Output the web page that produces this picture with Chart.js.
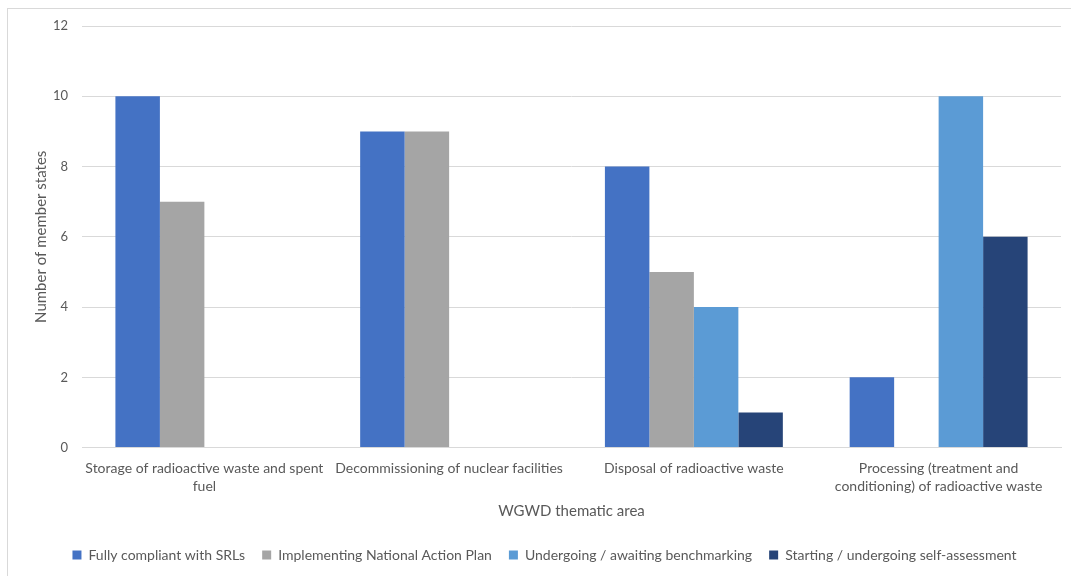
<!DOCTYPE html>
<html>
<head>
<meta charset="utf-8">
<script src="https://cdn.jsdelivr.net/npm/chart.js@4"></script>
<style>
  body { margin: 0; background: #fff; }
  #wrap { position: relative; width: 1071px; height: 576px; }
  #frame { position: absolute; left: 7px; top: 8px; width: 1070px; height: 575px; border: 1px solid #d9d9d9; box-sizing: border-box; }
  canvas { position: absolute; left: 0; top: 0; }
</style>
</head>
<body>
<div id="wrap">
  <div id="frame"></div>
  <canvas id="chart" width="1071" height="576"></canvas>
</div>
<script>
const categories = [
  ["Storage of radioactive waste and spent", "fuel"],
  "Decommissioning of nuclear facilities",
  "Disposal of radioactive waste",
  ["Processing (treatment and", "conditioning) of radioactive waste"]
];
const seriesNames = [
  "Fully compliant with SRLs",
  "Implementing National Action Plan",
  "Undergoing / awaiting benchmarking",
  "Starting / undergoing self-assessment"
];
const fullyCompliant = [10, 9, 8, 2];
const implementingNAP = [7, 9, 5, 0];
const benchmarking = [0, 0, 4, 10];
const selfAssessment = [0, 0, 1, 6];
const colors = ["#4472C4", "#A5A5A5", "#5B9BD5", "#264478"];

const textColor = "#595959";
const fontFamily = "Lato, 'Liberation Sans', sans-serif";

const values = [fullyCompliant, implementingNAP, benchmarking, selfAssessment];
const datasets = values.map((v, i) => ({
  label: seriesNames[i],
  data: v,
  backgroundColor: colors[i],
  borderWidth: 0,
  categoryPercentage: 0.727,
  barPercentage: 1.0
}));

new Chart(document.getElementById("chart").getContext("2d"), {
  type: "bar",
  data: { labels: categories, datasets: datasets },
  options: {
    responsive: false,
    animation: false,
    layout: { padding: { top: 26, right: 10, left: 28, bottom: 4 } },
    plugins: {
      tooltip: { enabled: false },
      legend: {
        position: "bottom",
        labels: {
          color: textColor,
          font: { family: fontFamily, size: 14 },
          boxWidth: 9,
          boxHeight: 9,
          padding: 17
        }
      }
    },
    scales: {
      x: {
        grid: { display: false },
        border: { display: true, color: "#d9d9d9" },
        ticks: { color: textColor, font: { family: fontFamily, size: 14, lineHeight: 1.3 }, maxRotation: 0, padding: 4 },
        title: {
          display: true,
          text: "WGWD thematic area",
          color: textColor,
          font: { family: fontFamily, size: 15 },
          padding: { top: 2, bottom: 11 }
        }
      },
      y: {
        min: 0,
        max: 12,
        ticks: { stepSize: 2, color: textColor, font: { family: fontFamily, size: 13 }, padding: 14 },
        grid: { color: "#d9d9d9", drawTicks: false },
        border: { display: false },
        title: {
          display: true,
          text: "Number of member states",
          color: textColor,
          font: { family: fontFamily, size: 15 }
        },
        afterFit: (scale) => { scale.width = 54; }
      }
    }
  }
});
</script>
</body>
</html>
